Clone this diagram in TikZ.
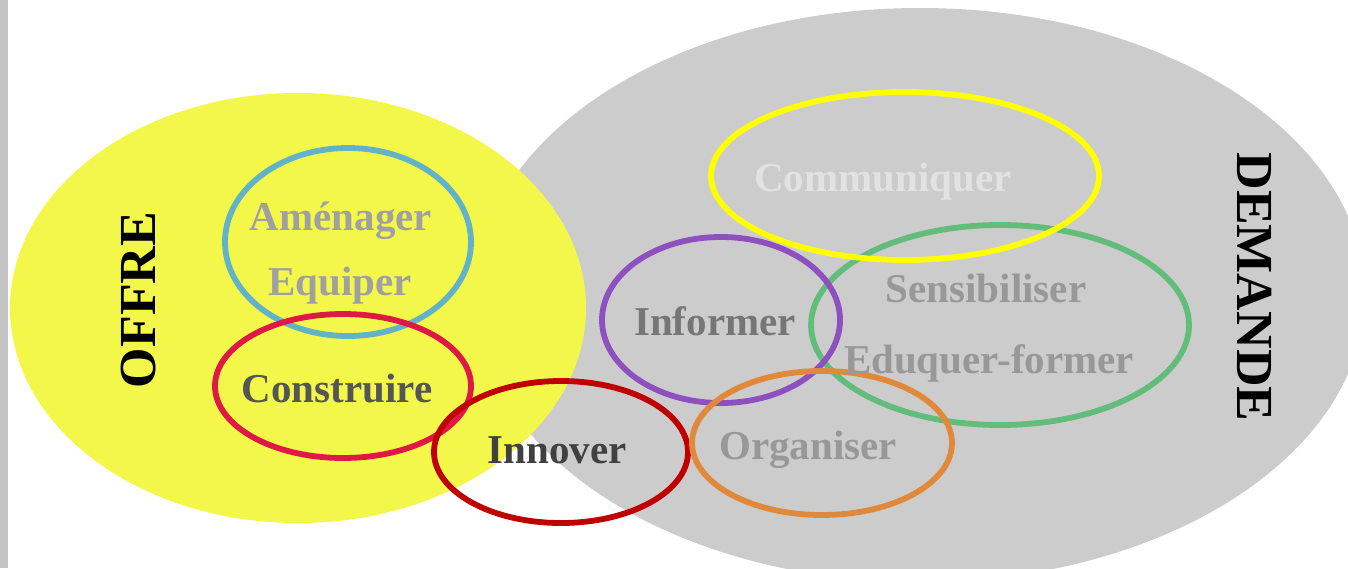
\documentclass[tikz,border=0pt]{standalone}
\usepackage{fontspec}
\setmainfont{Liberation Serif}
\definecolor{bargray}{RGB}{196,196,196}
\definecolor{demgray}{RGB}{204,204,204}
\definecolor{offyellow}{RGB}{243,247,74}
\definecolor{ringcyan}{RGB}{99,179,200}
\definecolor{ringcrimson}{RGB}{223,25,70}
\definecolor{ringdarkred}{RGB}{192,0,0}
\definecolor{ringpurple}{RGB}{142,80,190}
\definecolor{ringyellow}{RGB}{255,255,0}
\definecolor{ringgreen}{RGB}{98,188,122}
\definecolor{ringorange}{RGB}{225,137,58}
\definecolor{txtA}{RGB}{160,160,160}
\definecolor{txtB}{RGB}{85,85,85}
\definecolor{txtC}{RGB}{64,64,64}
\definecolor{txtD}{RGB}{118,118,118}
\definecolor{txtE}{RGB}{226,226,226}
\definecolor{txtF}{RGB}{152,152,152}
\tikzset{
  ring/.style={line width=5.8pt},
  lbl/.style={anchor=base, inner sep=0pt, font=\fontsize{41}{49}\selectfont\bfseries},
  big/.style={anchor=base, inner sep=0pt, text=black, font=\fontsize{52}{60}\selectfont\bfseries}
}
\begin{document}
\begin{tikzpicture}[x=1pt,y=-1pt]
\useasboundingbox (0,0) rectangle (1348,568);
\fill[white] (0,0) rectangle (1348,568);
\fill[bargray] (0,0) rectangle (8,568);
% large areas
\fill[demgray] (920,295) ellipse [x radius=445pt, y radius=287pt];
\fill[offyellow] (298,308) ellipse [x radius=288pt, y radius=215pt];
% rings
\draw[ring, ringcyan] (348,242) ellipse [x radius=123pt, y radius=94pt];
\draw[ring, ringcrimson] (343,386) ellipse [x radius=128pt, y radius=72pt];
\draw[ring, ringdarkred] (561,452) ellipse [x radius=127pt, y radius=71pt];
\draw[ring, ringgreen] (1000,325) ellipse [x radius=189pt, y radius=100pt];
\draw[ring, ringpurple] (721,320) ellipse [x radius=119pt, y radius=83pt];
\draw[ring, ringyellow] (905,176) ellipse [x radius=194pt, y radius=84pt];
\draw[ring, ringorange] (822,443) ellipse [x radius=130pt, y radius=72pt];
% labels
\node[lbl, text=txtA] (amen) at (341,230) {Aménager};
\node[lbl, text=txtA] (equi) at (340,295) {Equiper};
\node[lbl, text=txtB] (cons) at (337,402) {Construire};
\node[lbl, text=txtC] (inno) at (557,463) {Innover};
\node[lbl, text=txtD] (info) at (715,335) {Informer};
\node[lbl, text=txtE] (comm) at (883,191) {Communiquer};
\node[lbl, text=txtF] (sens) at (986,302) {Sensibiliser};
\node[lbl, text=txtF] (educ) at (989,373) {Eduquer-former};
\node[lbl, text=txtF] (orga) at (808,459) {Organiser};
\node[big, rotate=90] (offre) at (155,300) {OFFRE};
\node[big, rotate=-90] (dema) at (1237,287) {DEMANDE};
\end{tikzpicture}
\end{document}
